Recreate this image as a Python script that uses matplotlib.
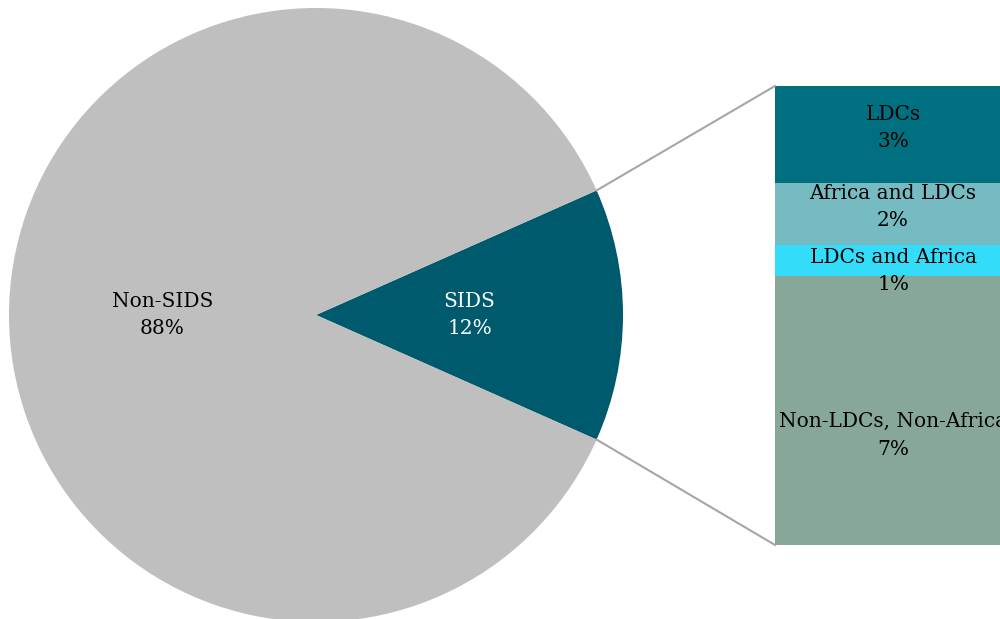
import numpy as np
import matplotlib.pyplot as plt

# pie: share of all (angle), printed labels as shown
pie_names = ['SIDS', 'Non-SIDS']
pie_values = [13.3, 86.7]
pie_text = ['12%', '88%']
pie_colors = ['#005A6E', '#BFBFBF']
pie_textcolors = ['white', 'black']

# bar of pie: breakdown of SIDS (top to bottom)
bar_names = ['LDCs', 'Africa and LDCs', 'LDCs and Africa', 'Non-LDCs, Non-Africa']
bar_values = [2.8, 1.8, 0.9, 7.8]
bar_text = ['3%', '2%', '1%', '7%']
bar_colors = ['#006F7F', '#75BBC1', '#33DDFA', '#87A898']
label_shift = [-6, -7, 11, 25]  # label offsets from segment middle, px

plt.rcParams['font.family'] = ['DejaVu Serif']
FS = 14.5
LS = 1.55

fig = plt.figure(figsize=(10, 6.19), dpi=100)
ax = fig.add_axes([0, 0, 1, 1])

cx, cy, r = 316, 315, 307
half = pie_values[0] / sum(pie_values) * 360 / 2
wedges, _ = ax.pie(pie_values, colors=pie_colors, startangle=-half,
                   center=(cx, cy), radius=r, frame=True,
                   wedgeprops=dict(linewidth=0))
ax.set_xlim(0, 1000)
ax.set_ylim(619, 0)
ax.set_aspect('equal')
ax.axis('off')

for i, w in enumerate(wedges):
    mid = np.deg2rad((w.theta1 + w.theta2) / 2)
    tx = cx + 0.5 * r * np.cos(mid)
    ty = cy + 0.5 * r * np.sin(mid)
    ax.text(tx, ty, pie_names[i] + '\n' + pie_text[i], ha='center', va='center',
            fontsize=FS, color=pie_textcolors[i], linespacing=LS)

# stacked bar (right edge runs past the figure, as in the source)
bar_left, bar_width = 775, 236
bar_top, bar_height = 86, 459
scale = bar_height / sum(bar_values)
bottom = bar_top
for i, v in enumerate(bar_values):
    h = v * scale
    ax.bar(bar_left + bar_width / 2, h, width=bar_width, bottom=bottom,
           color=bar_colors[i], linewidth=0)
    ax.text(bar_left + bar_width / 2, bottom + h / 2 + label_shift[i],
            bar_names[i] + '\n' + bar_text[i], ha='center', va='center',
            fontsize=FS, color='black', linespacing=LS, clip_on=False)
    bottom += h

# connector lines from wedge edge to bar corners
a = np.deg2rad(half)
ax.plot([cx + r * np.cos(a), bar_left], [cy - r * np.sin(a), bar_top],
        color='#A6A6A6', lw=1.5)
ax.plot([cx + r * np.cos(a), bar_left], [cy + r * np.sin(a), bar_top + bar_height],
        color='#A6A6A6', lw=1.5)

fig.savefig('out.png', dpi=100)
